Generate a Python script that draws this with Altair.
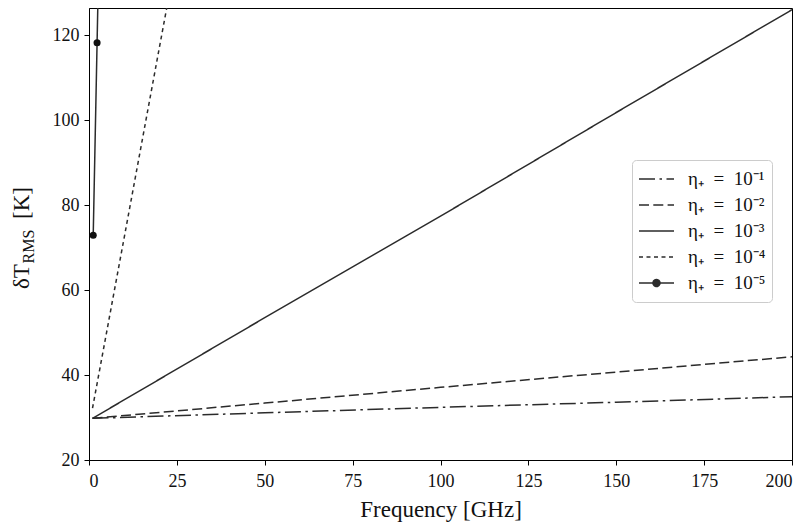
import altair as alt
import pandas as pd

# ---- data ----
labels = [
    "η₊\u2002=\u200210⁻¹",
    "η₊\u2002=\u200210⁻²",
    "η₊\u2002=\u200210⁻³",
    "η₊\u2002=\u200210⁻⁴",
    "η₊\u2002=\u200210⁻⁵",
]

freq_a = [1, 50, 100, 150, 200]
t_e1 = [29.8, 31.1, 32.4, 33.6, 34.9]
t_e2 = [29.8, 33.4, 37.1, 40.7, 44.3]
t_e3 = [29.8, 53.5, 77.4, 101.8, 126.0]

freq_b = [1, 10, 20, 30]
t_e4 = [32.2, 72.3, 117.0, 161.5]

freq_c = [1.2, 2.3, 3.4]
t_e5 = [72.9, 118.2, 163.5]

x_ticks = [0, 25, 50, 75, 100, 125, 150, 175, 200]
y_ticks = [20, 40, 60, 80, 100, 120]

ytitle_parts = ["δT", "RMS", "[K]"]

# ---- build the table ----
rows = []
for f, t in zip(freq_a, t_e1):
    rows.append({"freq": f, "temp": t, "series": labels[0]})
for f, t in zip(freq_a, t_e2):
    rows.append({"freq": f, "temp": t, "series": labels[1]})
for f, t in zip(freq_a, t_e3):
    rows.append({"freq": f, "temp": t, "series": labels[2]})
for f, t in zip(freq_b, t_e4):
    rows.append({"freq": f, "temp": t, "series": labels[3]})
for f, t in zip(freq_c, t_e5):
    rows.append({"freq": f, "temp": t, "series": labels[4]})
df = pd.DataFrame(rows)

FONT = "Liberation Serif"
LINE_COLOR = "#2b2b2b"
dashes = [[16, 4.5, 2.5, 4.5], [10, 4.3], [1, 0], [4, 3.5], [1, 0]]

# legend symbol for the marker series: a line plus concentric rings (a filled dot)
marker_path = (
    "M-1,0H1"
    "M0.2,0A0.2,0.2,0,1,1,-0.2,0A0.2,0.2,0,1,1,0.2,0"
    "M0.14,0A0.14,0.14,0,1,1,-0.14,0A0.14,0.14,0,1,1,0.14,0"
    "M0.08,0A0.08,0.08,0,1,1,-0.08,0A0.08,0.08,0,1,1,0.08,0"
    "M0.03,0A0.03,0.03,0,1,1,-0.03,0A0.03,0.03,0,1,1,0.03,0"
)
shape_expr = "datum.value === '" + labels[4] + "' ? '" + marker_path + "' : 'stroke'"

x_enc = alt.X(
    "freq:Q",
    scale=alt.Scale(domain=[0, 200], nice=False, zero=False),
    axis=alt.Axis(values=x_ticks, title="Frequency [GHz]", format="d",
                  labelPadding=7, titlePadding=8),
)
y_enc = alt.Y(
    "temp:Q",
    scale=alt.Scale(domain=[20, 126.4], nice=False, zero=False),
    axis=alt.Axis(values=y_ticks, title=None, format="d", labelPadding=5),
)

lines = alt.Chart(df).mark_line(strokeWidth=1.5, color=LINE_COLOR, clip=True).encode(
    x=x_enc,
    y=y_enc,
    strokeDash=alt.StrokeDash(
        "series:N",
        scale=alt.Scale(domain=labels, range=dashes),
        legend=alt.Legend(
            title=None,
            orient="none",
            legendX=543,
            legendY=152,
            symbolType=alt.ExprRef(expr=shape_expr),
            symbolSize=1225,
            symbolStrokeWidth=1.5,
            symbolStrokeColor=LINE_COLOR,
            symbolFillColor="#111111",
            labelFont=FONT,
            labelFontSize=19,
            labelColor="#111111",
            labelOffset=13,
            labelLimit=200,
            padding=6,
            rowPadding=0,
            clipHeight=26,
            strokeColor="#cccccc",
            fillColor="white",
            cornerRadius=4,
        ),
    ),
)

points = (
    alt.Chart(df)
    .transform_filter(alt.datum.series == labels[4])
    .mark_point(filled=True, shape="circle", size=50, color="#111111", opacity=1, clip=True)
    .encode(x=x_enc, y=y_enc)
)

title_df0 = pd.DataFrame({"t": [ytitle_parts[0]]})
title_df1 = pd.DataFrame({"t": [ytitle_parts[1]]})
title_df2 = pd.DataFrame({"t": [ytitle_parts[2]]})

yt0 = alt.Chart(title_df0).mark_text(
    font=FONT, fontSize=23, angle=270, align="left", baseline="alphabetic", color="#111111"
).encode(text="t:N", x=alt.value(-60), y=alt.value(281))
yt1 = alt.Chart(title_df1).mark_text(
    font=FONT, fontSize=16, angle=270, align="left", baseline="alphabetic", color="#111111"
).encode(text="t:N", x=alt.value(-55.5), y=alt.value(255.5))
yt2 = alt.Chart(title_df2).mark_text(
    font=FONT, fontSize=23, angle=270, align="left", baseline="alphabetic", color="#111111"
).encode(text="t:N", x=alt.value(-60), y=alt.value(211))

chart = (
    alt.layer(lines, points, yt0, yt1, yt2)
    .properties(
        width=703,
        height=452,
        autosize=alt.AutoSizeParams(type="none"),
        padding={"left": 81, "top": 0, "right": 9, "bottom": 63},
    )
    .configure_view(stroke="black", strokeWidth=1)
    .configure_axis(
        grid=False,
        domainColor="black",
        domainWidth=1,
        tickColor="black",
        tickWidth=1,
        tickSize=5,
        labelFont=FONT,
        labelFontSize=18,
        labelColor="#111111",
        titleFont=FONT,
        titleFontSize=23,
        titleFontWeight="normal",
        titleColor="#111111",
    )
)

chart.save("out.html", embed_options={"renderer": "svg", "actions": False})
